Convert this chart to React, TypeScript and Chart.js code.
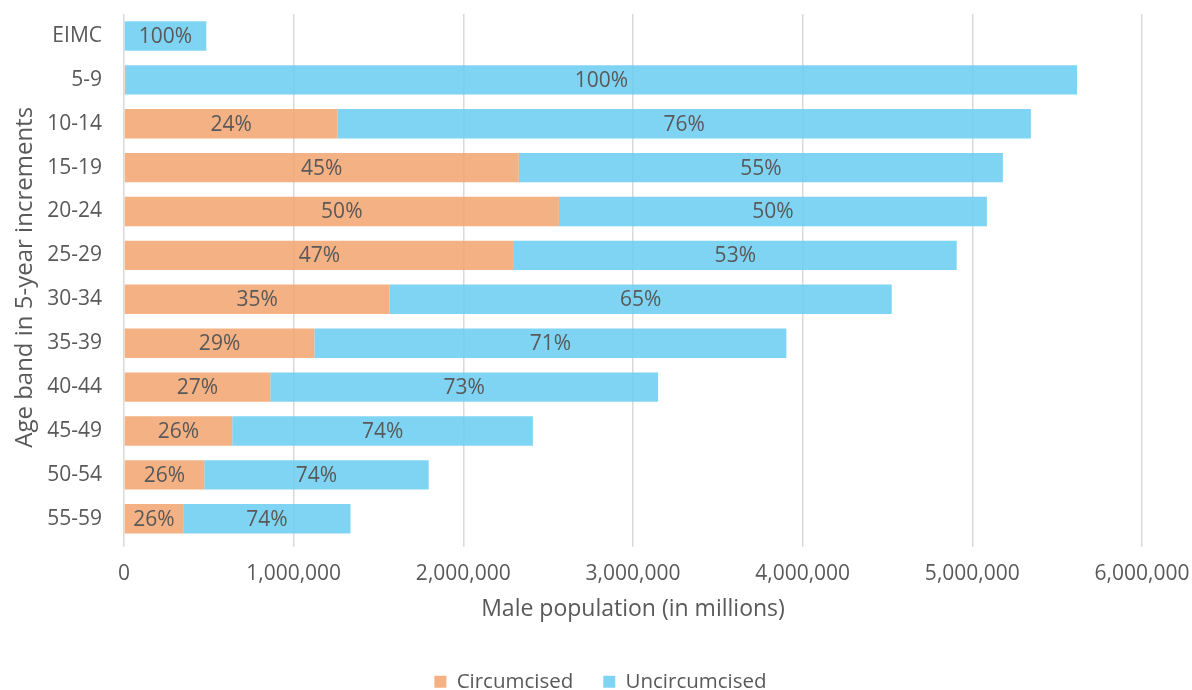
import React, { useEffect, useRef } from "react";
import { Chart, registerables } from "chart.js";

Chart.register(...registerables);

const categories = ["EIMC", "5-9", "10-14", "15-19", "20-24", "25-29", "30-34", "35-39", "40-44", "45-49", "50-54", "55-59"];
const circumcised = [0, 12000, 1258000, 2327000, 2563000, 2298000, 1565000, 1122000, 862000, 638000, 473000, 349000];
const uncircumcised = [485000, 5605000, 4087000, 2853000, 2523000, 2610000, 2960000, 2782000, 2286000, 1772000, 1323000, 986000];
const circLabels = ["", "", "24%", "45%", "50%", "47%", "35%", "29%", "27%", "26%", "26%", "26%"];
const uncircLabels = ["100%", "100%", "76%", "55%", "50%", "53%", "65%", "71%", "73%", "74%", "74%", "74%"];
const xTicks = [0, 1000000, 2000000, 3000000, 4000000, 5000000, 6000000];

const FONT = "'Open Sans', sans-serif";
const TEXT = "#595959";

const labelPlugin = {
  id: "segLabels",
  afterDatasetsDraw(chart: any) {
    const ctx = chart.ctx;
    const sets = [circLabels, uncircLabels];
    ctx.save();
    ctx.font = `21px ${FONT}`;
    ctx.fillStyle = TEXT;
    ctx.textAlign = "center";
    ctx.textBaseline = "middle";
    sets.forEach((labels, di) => {
      const meta = chart.getDatasetMeta(di);
      meta.data.forEach((bar: any, i: number) => {
        const t = labels[i];
        if (!t) return;
        const x = (bar.x + bar.base) / 2;
        ctx.fillText(t, x, bar.y + 1);
      });
    });
    ctx.restore();
  },
};

export default function App() {
  const ref = useRef<HTMLCanvasElement>(null);
  useEffect(() => {
    if (!ref.current) return;
    const chart = new Chart(ref.current, {
      type: "bar",
      data: {
        labels: categories,
        datasets: [
          {
            label: "Circumcised",
            data: circumcised,
            backgroundColor: "rgba(242,163,109,0.85)",
            borderWidth: 0,
            barPercentage: 0.67,
            categoryPercentage: 1,
          },
          {
            label: "Uncircumcised",
            data: uncircumcised,
            backgroundColor: "rgba(106,204,241,0.85)",
            borderWidth: 0,
            barPercentage: 0.67,
            categoryPercentage: 1,
          },
        ],
      },
      options: {
        indexAxis: "y",
        animation: false,
        responsive: true,
        maintainAspectRatio: false,
        layout: { padding: { top: 14, right: 2, left: 11, bottom: -12 } },
        scales: {
          x: {
            stacked: true,
            min: 0,
            max: 6000000,
            afterBuildTicks: (axis: any) => {
              axis.ticks = xTicks.map((v) => ({ value: v }));
            },
            afterFit: (axis: any) => {
              axis.paddingRight = 50;
            },
            grid: { color: "#d9d9d9", lineWidth: 1.5, drawTicks: true, tickLength: 6 },
            border: { display: false },
            ticks: {
              color: TEXT,
              font: { family: FONT, size: 21 },
              padding: 15,
              maxRotation: 0,
              callback: (v: any) => Number(v).toLocaleString("en-US"),
            },
            title: {
              display: true,
              text: "Male population (in millions)",
              color: TEXT,
              font: { family: FONT, size: 23 },
              padding: { top: -6, bottom: 18 },
            },
          },
          y: {
            stacked: true,
            afterFit: (axis: any) => {
              axis.width = 113;
              axis.paddingTop = 0;
              axis.paddingBottom = 0;
            },
            grid: { display: false },
            border: { display: false },
            ticks: { color: TEXT, font: { family: FONT, size: 21 }, padding: 14 },
            title: {
              display: true,
              text: "Age band in 5-year increments",
              color: TEXT,
              font: { family: FONT, size: 24 },
              padding: { top: 0, bottom: 0 },
            },
          },
        },
        plugins: {
          legend: {
            position: "bottom",
            labels: {
              color: TEXT,
              font: { family: FONT, size: 20.5 },
              boxWidth: 12,
              boxHeight: 12,
              padding: 30,
            },
          },
          tooltip: { enabled: false },
        },
      },
      plugins: [labelPlugin],
    } as any);
    return () => chart.destroy();
  }, []);
  return (
    <div style={{ position: "fixed", left: 0, top: 0, width: 1192, height: 690, background: "#fff" }}>
      <canvas ref={ref} />
    </div>
  );
}
